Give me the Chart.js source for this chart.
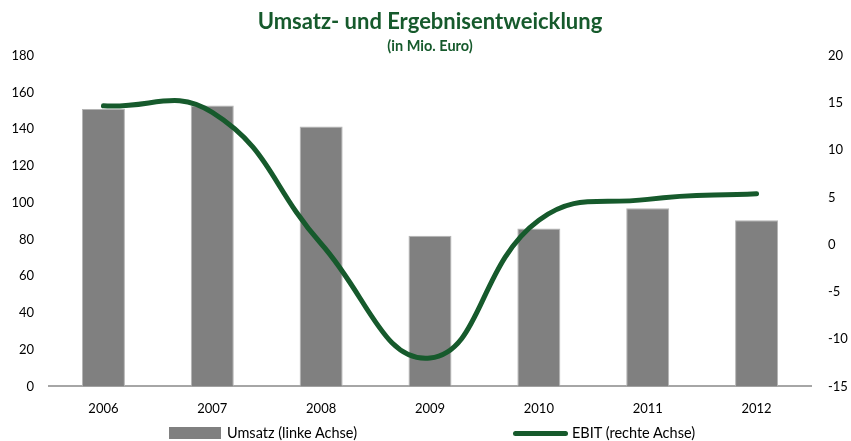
<!DOCTYPE html>
<html>
<head>
<meta charset="utf-8">
<script src="https://cdn.jsdelivr.net/npm/chart.js@4.4.1/dist/chart.umd.min.js"></script>
<style>
  html, body { margin: 0; padding: 0; background: #fff; }
  #wrap { position: relative; width: 851px; height: 441px; }
  .legend-item {
    position: absolute;
    font-family: Lato, "Open Sans", sans-serif;
    font-size: 14.5px;
    color: #000;
    white-space: nowrap;
    line-height: 16px;
  }
  .legend-swatch { position: absolute; }
</style>
</head>
<body>
<div id="wrap">
  <canvas id="chart"></canvas>
  <div class="legend-swatch" id="swUmsatz" style="left:169px; top:427px; width:52px; height:12px; background:#808080;"></div>
  <div class="legend-item" id="lbUmsatz" style="left:227px; top:425px;"></div>
  <div class="legend-swatch" id="swEbit" style="left:513px; top:431px; width:55px; height:5px; border-radius:3px; background:#165a2c;"></div>
  <div class="legend-item" id="lbEbit" style="left:572px; top:425px;"></div>
</div>
<script>
// Data ------------------------------------------------------------------------
const years = ['2006', '2007', '2008', '2009', '2010', '2011', '2012'];
const umsatz = [151, 153, 141.5, 82, 86, 97, 90.5];
const ebit = [14.7, 14.0, 0.1, -12.0, 2.6, 4.8, 5.4];
const seriesNames = ['Umsatz (linke Achse)', 'EBIT (rechte Achse)'];

const green = '#165a2c';
const fontFamily = 'Lato, "Open Sans", sans-serif';

// Legend text (HTML, below the chart)
document.getElementById('lbUmsatz').textContent = seriesNames[0];
document.getElementById('lbEbit').textContent = seriesNames[1];

// Chart -----------------------------------------------------------------------
const ctx = document.getElementById('chart');

new Chart(ctx, {
  data: {
    labels: years,
    datasets: [
      {
        type: 'line',
        label: seriesNames[1],
        data: ebit,
        yAxisID: 'yRight',
        borderColor: green,
        backgroundColor: green,
        borderWidth: 5,
        borderCapStyle: 'round',
        tension: 0.45,
        pointRadius: 0,
        order: 0
      },
      {
        type: 'bar',
        label: seriesNames[0],
        data: umsatz,
        yAxisID: 'yLeft',
        backgroundColor: '#808080',
        borderColor: '#b4b4b4',
        borderWidth: 1,
        barPercentage: 0.395,
        categoryPercentage: 1,
        order: 1
      }
    ]
  },
  options: {
    responsive: true,
    maintainAspectRatio: false,
    animation: false,
    layout: { padding: { left: 0, right: 0, top: 0, bottom: 9 } },
    plugins: {
      title: {
        display: true,
        fullSize: false,
        text: 'Umsatz- und Ergebnisentweicklung',
        color: green,
        font: { family: fontFamily, size: 22, weight: 'bold' },
        padding: { top: 9, bottom: 0 }
      },
      subtitle: {
        display: true,
        fullSize: false,
        text: '(in Mio. Euro)',
        color: green,
        font: { family: fontFamily, size: 14.5, weight: 'bold' },
        padding: { top: 2, bottom: 1 }
      },
      legend: { display: false },
      tooltip: { enabled: false }
    },
    scales: {
      x: {
        grid: { display: false, drawTicks: false },
        border: { display: true, color: '#a6a6a6', width: 2 },
        ticks: { color: '#000', font: { family: fontFamily, size: 13 }, padding: 15 }
      },
      yLeft: {
        position: 'left',
        min: 0,
        max: 180,
        grid: { display: false, drawTicks: false },
        border: { display: false },
        ticks: { stepSize: 20, color: '#000', font: { family: fontFamily, size: 13 }, padding: 15 },
        afterFit: (scale) => { scale.width = 49; }
      },
      yRight: {
        position: 'right',
        min: -15,
        max: 20,
        grid: { display: false, drawTicks: false },
        border: { display: false },
        ticks: { stepSize: 5, color: '#000', font: { family: fontFamily, size: 13 }, padding: 17 },
        afterFit: (scale) => { scale.width = 40; }
      }
    }
  }
});
</script>
</body>
</html>
